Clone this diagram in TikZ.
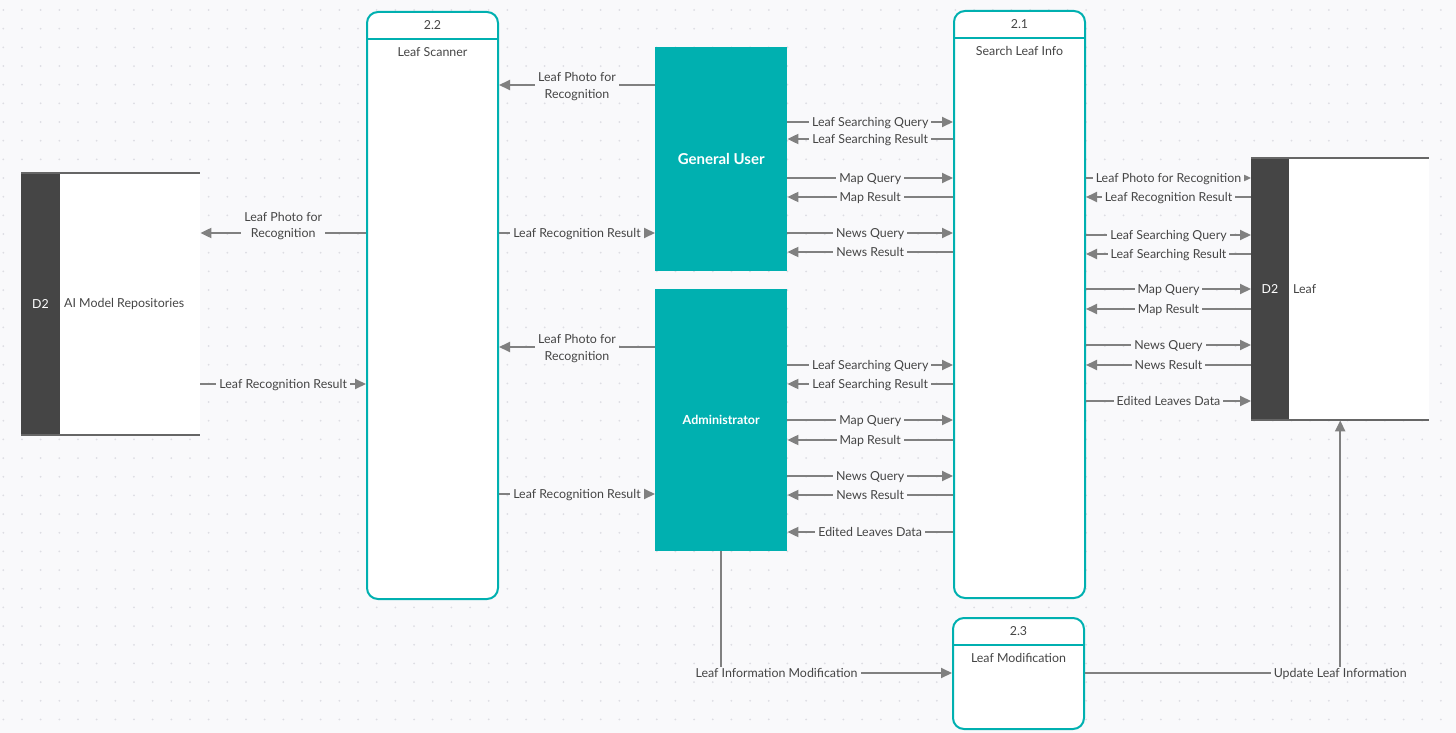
\documentclass[tikz,border=0pt]{standalone}
\usepackage{fontspec}
\setmainfont{Lato}
\usetikzlibrary{arrows.meta}
\definecolor{bgc}{HTML}{F9F9FB}
\definecolor{dotc}{HTML}{DDDDE3}
\definecolor{tealc}{HTML}{00B0B0}
\definecolor{flowc}{HTML}{808080}
\definecolor{txtc}{HTML}{454545}
\definecolor{storec}{HTML}{454545}
\definecolor{storeline}{HTML}{666666}

\begin{document}
\begin{tikzpicture}[x=1pt,y=-1pt,
  font=\fontsize{12.4}{16.6}\selectfont,
  procbox/.style={draw=tealc, line width=2pt, fill=white, rounded corners=11pt,
    anchor=north west, inner sep=0pt, minimum width=131pt},
  procline/.style={draw=tealc, line width=2pt},
  proctext/.style={text=txtc, inner sep=0pt},
  entity/.style={fill=tealc, anchor=north west, inner sep=0pt,
    minimum width=132pt, text=white},
  storebody/.style={fill=white, anchor=north west, inner sep=0pt,
    minimum width=179pt, minimum height=262pt},
  storeedge/.style={draw=storeline, line width=2pt},
  flow/.style={draw=flowc, line width=2pt, -{Triangle[length=11pt,width=10pt]}},
  lbl/.style={fill=bgc, text=txtc, inner xsep=3pt, inner ysep=1.5pt,
    text height=8.8pt, text depth=0pt},
  lbltwo/.style={fill=bgc, text=txtc, inner xsep=3pt, inner ysep=1pt,
    align=center, yshift=-1.5pt},
]
% canvas and dotted grid
\fill[bgc] (0,0) rectangle (1456,733);
\useasboundingbox (0,0) rectangle (1456,733);
\foreach \i in {0,...,77}{
  \foreach \j in {0,...,38}{
    \fill[dotc] (3.3+18.67*\i, 10+18.67*\j) circle (1pt);
  }
}

% data store D2: AI Model Repositories
\node[storebody] (ai) at (21,173) {};
\fill[storec] (ai.north west) rectangle ([xshift=39pt]ai.south west);
\draw[storeedge] (ai.north west) -- (ai.north east);
\draw[storeedge] (ai.south west) -- (ai.south east);
\node[text=white] (aiid) at ([xshift=19.5pt]ai.west) {D2};
\node[text=txtc, anchor=west, inner sep=0pt] (ainame) at ([xshift=43pt]ai.west) {AI Model Repositories};

% data store D2: Leaf
\node[storebody, minimum width=178pt] (leaf) at (1251,158) {};
\fill[storec] (leaf.north west) rectangle ([xshift=38pt]leaf.south west);
\draw[storeedge] (leaf.north west) -- (leaf.north east);
\draw[storeedge] (leaf.south west) -- (leaf.south east);
\node[text=white] (leafid) at ([xshift=19pt]leaf.west) {D2};
\node[text=txtc, anchor=west, inner sep=0pt] (leafname) at ([xshift=42pt]leaf.west) {Leaf};

% process 2.2
\node[procbox, minimum height=587pt] (p22) at (366,11) {};
\draw[procline] ([yshift=-28pt]p22.north west) -- ([yshift=-28pt]p22.north east);
\node[proctext] (p22id) at ([yshift=-14pt]p22.north) {2.2};
\node[proctext] (p22name) at ([yshift=-41pt]p22.north) {Leaf Scanner};

% process 2.1
\node[procbox, minimum height=587pt] (p21) at (953,10) {};
\draw[procline] ([yshift=-28pt]p21.north west) -- ([yshift=-28pt]p21.north east);
\node[proctext] (p21id) at ([yshift=-14pt]p21.north) {2.1};
\node[proctext] (p21name) at ([yshift=-41pt]p21.north) {Search Leaf Info};

% process 2.3
\node[procbox, minimum height=111pt] (p23) at (952,617) {};
\draw[procline] ([yshift=-28pt]p23.north west) -- ([yshift=-28pt]p23.north east);
\node[proctext] (p23id) at ([yshift=-14pt]p23.north) {2.3};
\node[proctext] (p23name) at ([yshift=-41pt]p23.north) {Leaf Modification};

% external entities
\node[entity, minimum height=224pt, font=\fontsize{15}{17}\selectfont\bfseries] (gu) at (655,47) {General User};
\node[entity, minimum height=262pt, font=\fontsize{12.5}{15}\selectfont\bfseries] (adm) at (655,289) {Administrator};

% flows between the AI store and the leaf scanner
\draw[flow] (p22.west |- 0,233) -- node[lbltwo, yshift=8.5pt]{Leaf Photo for\\Recognition} (ai.east |- 0,233);
\draw[flow] (ai.east |- 0,384) -- node[lbl]{Leaf Recognition Result} (p22.west |- 0,384);

% flows between the users and the leaf scanner
\draw[flow] (gu.west |- 0,85) -- node[lbltwo]{Leaf Photo for\\Recognition} (p22.east |- 0,85);
\draw[flow] (p22.east |- 0,233) -- node[lbl]{Leaf Recognition Result} (gu.west |- 0,233);
\draw[flow] (adm.west |- 0,347) -- node[lbltwo]{Leaf Photo for\\Recognition} (p22.east |- 0,347);
\draw[flow] (p22.east |- 0,494) -- node[lbl]{Leaf Recognition Result} (adm.west |- 0,494);

% flows between the general user and the search process
\draw[flow] (gu.east |- 0,122) -- node[lbl]{Leaf Searching Query} (p21.west |- 0,122);
\draw[flow] (p21.west |- 0,139) -- node[lbl]{Leaf Searching Result} (gu.east |- 0,139);
\draw[flow] (gu.east |- 0,178) -- node[lbl]{Map Query} (p21.west |- 0,178);
\draw[flow] (p21.west |- 0,197) -- node[lbl]{Map Result} (gu.east |- 0,197);
\draw[flow] (gu.east |- 0,233) -- node[lbl]{News Query} (p21.west |- 0,233);
\draw[flow] (p21.west |- 0,252) -- node[lbl]{News Result} (gu.east |- 0,252);

% flows between the administrator and the search process
\draw[flow] (adm.east |- 0,365) -- node[lbl]{Leaf Searching Query} (p21.west |- 0,365);
\draw[flow] (p21.west |- 0,384) -- node[lbl]{Leaf Searching Result} (adm.east |- 0,384);
\draw[flow] (adm.east |- 0,420) -- node[lbl]{Map Query} (p21.west |- 0,420);
\draw[flow] (p21.west |- 0,440) -- node[lbl]{Map Result} (adm.east |- 0,440);
\draw[flow] (adm.east |- 0,476) -- node[lbl]{News Query} (p21.west |- 0,476);
\draw[flow] (p21.west |- 0,495) -- node[lbl]{News Result} (adm.east |- 0,495);
\draw[flow] (p21.west |- 0,532) -- node[lbl]{Edited Leaves Data} (adm.east |- 0,532);

% flows between the search process and the leaf store
\draw[flow] (p21.east |- 0,178) -- node[lbl]{Leaf Photo for Recognition} (leaf.west |- 0,178);
\draw[flow] (leaf.west |- 0,197) -- node[lbl]{Leaf Recognition Result} (p21.east |- 0,197);
\draw[flow] (p21.east |- 0,235) -- node[lbl]{Leaf Searching Query} (leaf.west |- 0,235);
\draw[flow] (leaf.west |- 0,254) -- node[lbl]{Leaf Searching Result} (p21.east |- 0,254);
\draw[flow] (p21.east |- 0,289) -- node[lbl]{Map Query} (leaf.west |- 0,289);
\draw[flow] (leaf.west |- 0,309) -- node[lbl]{Map Result} (p21.east |- 0,309);
\draw[flow] (p21.east |- 0,345) -- node[lbl]{News Query} (leaf.west |- 0,345);
\draw[flow] (leaf.west |- 0,365) -- node[lbl]{News Result} (p21.east |- 0,365);
\draw[flow] (p21.east |- 0,401) -- node[lbl]{Edited Leaves Data} (leaf.west |- 0,401);

% modification flows
\draw[flow] (adm.south) |- node[lbl, pos=0.62]{Leaf Information Modification} (p23.west |- 0,673);
\draw[flow] (p23.east |- 0,673) -| node[lbl, pos=0.5]{Update Leaf Information} (leaf.south);
\end{tikzpicture}
\end{document}
